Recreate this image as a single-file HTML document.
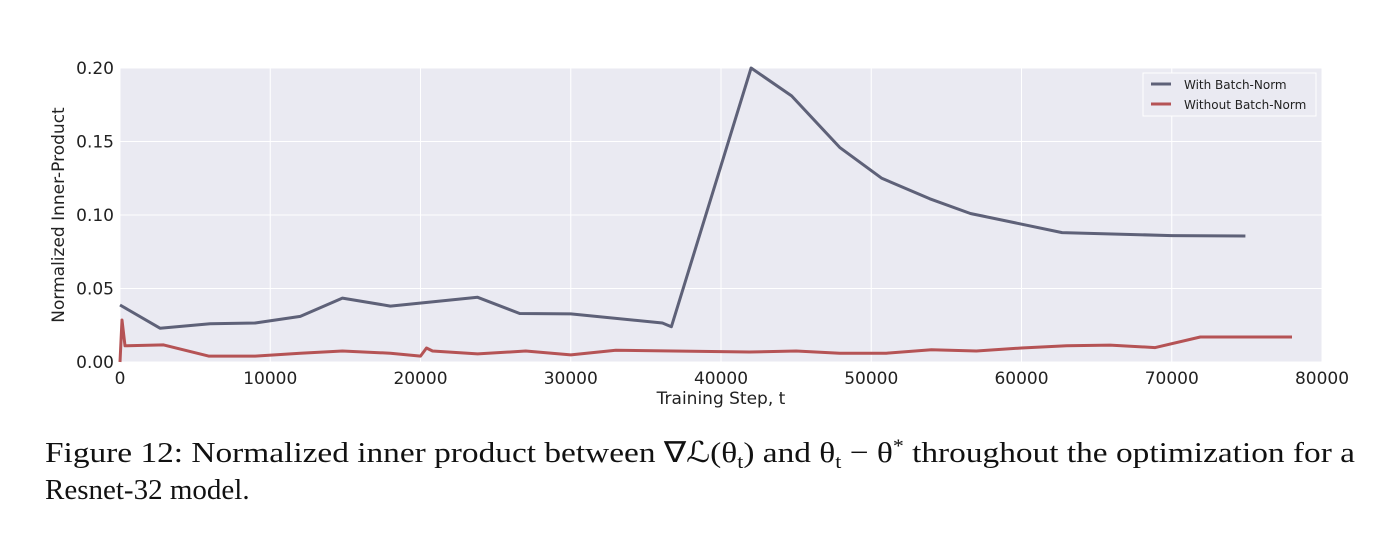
<!DOCTYPE html>
<html><head><meta charset="utf-8"><style>
body{margin:0;background:#fff;width:1400px;height:533px;overflow:hidden}
svg{display:block}
</style></head><body>
<svg id="chart" width="1400" height="533" xmlns="http://www.w3.org/2000/svg">
<rect x="120" y="68" width="1202" height="294" fill="#eaeaf2"/>
<g id="grid"></g><g id="ticks"></g><g id="series"></g>
<text x="721" y="404" font-family="DejaVu Sans, Liberation Sans, sans-serif" font-size="17" fill="#222" text-anchor="middle">Training Step, t</text>
<text transform="translate(64,215) rotate(-90)" font-family="DejaVu Sans, Liberation Sans, sans-serif" font-size="17" fill="#222" text-anchor="middle">Normalized Inner-Product</text>
<g>
<rect x="1143" y="73" width="173" height="43" fill="#eaeaf2" stroke="#fff" stroke-width="1"/>
<line x1="1151" y1="84" x2="1171" y2="84" stroke="#5e6178" stroke-width="3"/>
<text x="1184" y="89" font-family="DejaVu Sans, Liberation Sans, sans-serif" font-size="12" fill="#222">With Batch-Norm</text>
<line x1="1151" y1="104" x2="1171" y2="104" stroke="#b55355" stroke-width="3"/>
<text x="1184" y="109" font-family="DejaVu Sans, Liberation Sans, sans-serif" font-size="12" fill="#222">Without Batch-Norm</text>
</g>
<text x="45" y="462" font-family="Liberation Serif, serif" font-size="29" fill="#111" textLength="1310" lengthAdjust="spacingAndGlyphs">Figure 12: Normalized inner product between ∇ℒ(θ<tspan font-size="19" dy="6">t</tspan><tspan dy="-6">) and θ</tspan><tspan font-size="19" dy="6">t</tspan><tspan dy="-6"> − θ</tspan><tspan font-size="19" dy="-10">*</tspan><tspan dy="10"> throughout the optimization for a</tspan></text>
<text x="45" y="499" font-family="Liberation Serif, serif" font-size="29" fill="#111">Resnet-32 model.</text>
</svg>
<script>
const xTicks=[0,10000,20000,30000,40000,50000,60000,70000,80000];
const yTicks=[0,0.05,0.10,0.15,0.20];
const yTickLabels=["0.00","0.05","0.10","0.15","0.20"];
const withBnSteps=[0,2660,6000,9000,12000,14800,18000,23800,26600,30000,36100,36700,42000,44700,47900,50700,53900,56600,62700,70000,74900];
const withBnValues=[0.0388,0.023,0.026,0.0265,0.031,0.0435,0.038,0.044,0.033,0.0327,0.0265,0.024,0.20,0.181,0.146,0.125,0.111,0.101,0.088,0.086,0.0857];
const withoutBnSteps=[0,130,330,2900,5900,9000,12000,14800,18000,20000,20400,20800,23800,27000,30000,33000,41900,45000,47900,51000,54000,57000,60000,63000,65900,68900,71900,78000];
const withoutBnValues=[0,0.0286,0.011,0.0116,0.004,0.004,0.006,0.0075,0.006,0.004,0.0095,0.0075,0.0055,0.0075,0.0048,0.008,0.0068,0.0075,0.006,0.006,0.0083,0.0075,0.0095,0.011,0.0115,0.0098,0.017,0.017];
const X0=120,X1=1322,Y0=362,Y1=68;
const xs=v=>X0+(v-0)/80000*(X1-X0);
const ys=v=>Y0-(v/0.2)*(Y0-Y1);
const NS="http://www.w3.org/2000/svg";
const grid=document.getElementById('grid'),ticks=document.getElementById('ticks'),ser=document.getElementById('series');
function mk(tag,attrs,parent){const e=document.createElementNS(NS,tag);for(const k in attrs)e.setAttribute(k,attrs[k]);parent.appendChild(e);return e;}
xTicks.forEach(t=>{
  const x=xs(t);
  const g=mk('line',{x1:x,x2:x,y1:Y1,y2:Y0,stroke:'#fff','stroke-width':1},grid);
  
  
  const tx=mk('text',{x:x,y:Y0+22,'text-anchor':'middle','font-family':'DejaVu Sans, Liberation Sans, sans-serif','font-size':17,fill:'#222'},ticks);
  tx.textContent=String(t);
  
  
});
yTicks.forEach((t,i)=>{
  const y=ys(t);
  const g=mk('line',{x1:X0,x2:X1,y1:y,y2:y,stroke:'#fff','stroke-width':1},grid);
  
  
  const tx=mk('text',{x:X0-6,y:y+6,'text-anchor':'end','font-family':'DejaVu Sans, Liberation Sans, sans-serif','font-size':17,fill:'#222'},ticks);
  tx.textContent=yTickLabels[i];
  
  
});
function line(steps,vals,color,name){
  const p=steps.map((s,i)=>xs(s).toFixed(1)+','+ys(vals[i]).toFixed(1)).join(' ');
  const e=mk('polyline',{points:p,fill:'none',stroke:color,'stroke-width':3,'stroke-linejoin':'round'},ser);
  
  
}
line(withBnSteps,withBnValues,'#5e6178','line-with-batch-norm');
line(withoutBnSteps,withoutBnValues,'#b55355','line-without-batch-norm');
</script>
</body></html>
